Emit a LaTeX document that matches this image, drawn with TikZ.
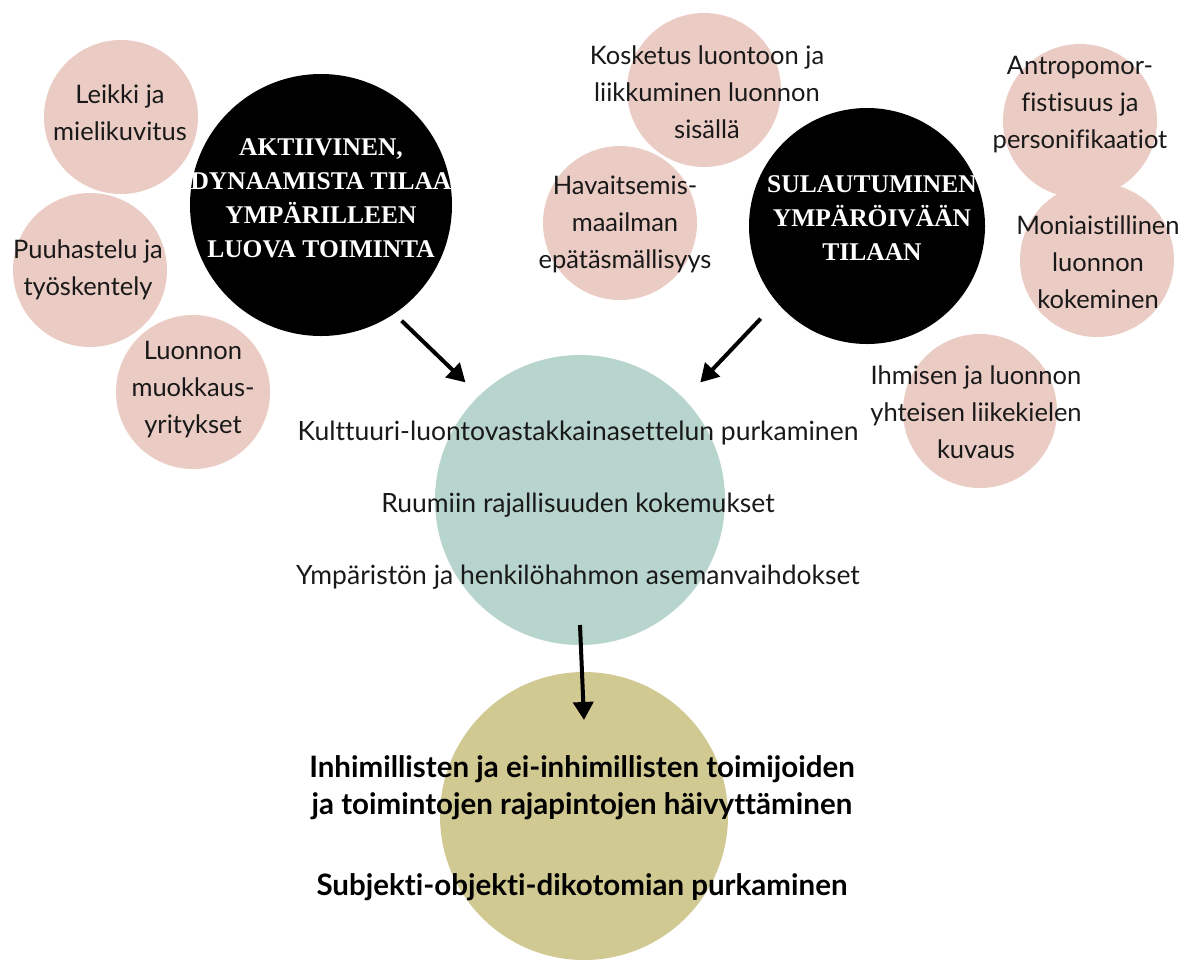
\documentclass[tikz,border=0pt]{standalone}
\usepackage{fontspec}
\setmainfont{Lato}[Ligatures=NoCommon]
\newfontfamily\headfont{Liberation Serif}
\usetikzlibrary{arrows.meta}
\definecolor{pinkfill}{RGB}{235,204,196}
\definecolor{tealfill}{RGB}{183,212,205}
\definecolor{olivefill}{RGB}{208,201,146}
\definecolor{txt}{RGB}{25,25,25}
\begin{document}
\begin{tikzpicture}[x=1pt,y=-1pt,
  pinkdisc/.style={circle, fill=pinkfill, minimum size=154pt, inner sep=0pt},
  blackdisc/.style={circle, fill=black, inner sep=0pt},
  ptext/.style={align=center, text=txt, font=\fontsize{25.5}{37}\selectfont},
  htext/.style={align=center, text=white, font=\headfont\bfseries\fontsize{25.5}{34}\selectfont},
  arr/.style={line width=4pt, -{Triangle[length=18pt,width=20pt]}}
]
\useasboundingbox (0,0) rectangle (1191,959);
% discs
\node[pinkdisc] (p1) at (121,117) {};
\node[pinkdisc] (p2) at (90,270) {};
\node[pinkdisc] (p3) at (193,392) {};
\node[pinkdisc] (p4) at (704,90) {};
\node[pinkdisc] (p5) at (620,223) {};
\node[pinkdisc] (p6) at (1080,121) {};
\node[pinkdisc] (p7) at (1097,260) {};
\node[pinkdisc] (p8) at (980,411) {};
\node[blackdisc, minimum size=262pt] (L) at (321,205) {};
\node[blackdisc, minimum size=236pt] (R) at (867,226) {};
\node[circle, fill=tealfill, minimum size=290pt, inner sep=0pt] (T) at (580,500) {};
\node[circle, fill=olivefill, minimum size=288pt, inner sep=0pt] (O) at (584,816) {};
% texts
\node[ptext] at (120,113) {Leikki ja\\mielikuvitus};
\node[ptext] at (88,270) {Puuhastelu ja\\työskentely};
\node[ptext] at (193,390) {Luonnon\\muokkaus-\\yritykset};
\node[ptext] at (707,92) {Kosketus luontoon ja\\liikkuminen luonnon\\sisällä};
\node[ptext] at (625,224) {Havaitsemis-\\maailman\\epätäsmällisyys};
\node[ptext] at (1080,105) {Antropomor-\\fistisuus ja\\personifikaatiot};
\node[ptext] at (1098,262) {Moniaistillinen\\luonnon\\kokeminen};
\node[ptext] at (976,412) {Ihmisen ja luonnon\\yhteisen liikekielen\\kuvaus};
\node[htext] at (321,198) {AKTIIVINEN,\\DYNAAMISTA TILAA\\YMPÄRILLEEN\\LUOVA TOIMINTA};
\node[htext] at (872,218) {SULAUTUMINEN\\YMPÄRÖIVÄÄN\\TILAAN};
\node[align=center, text=txt, font=\fontsize{26.5}{72}\selectfont] at (578,505)
  {Kulttuuri-luontovastakkainasettelun purkaminen\\Ruumiin rajallisuuden kokemukset\\Ympäristön ja henkilöhahmon asemanvaihdokset};
\node[align=center, text=black, font=\bfseries\fontsize{29.5}{37}\selectfont] at (582,828)
  {Inhimillisten ja ei-inhimillisten toimijoiden\\ja toimintojen rajapintojen häivyttäminen\\[44pt]Subjekti-objekti-dikotomian purkaminen};
% arrows
\draw[arr, shorten <=10pt, shorten >=19pt] (L.-56) -- (T.134);
\draw[arr, shorten <=23pt, shorten >=23pt] (R.-140) -- (T.44);
\draw[arr] ([yshift=-125pt]T.center) -- ([yshift=96pt]O.center);
\end{tikzpicture}
\end{document}
